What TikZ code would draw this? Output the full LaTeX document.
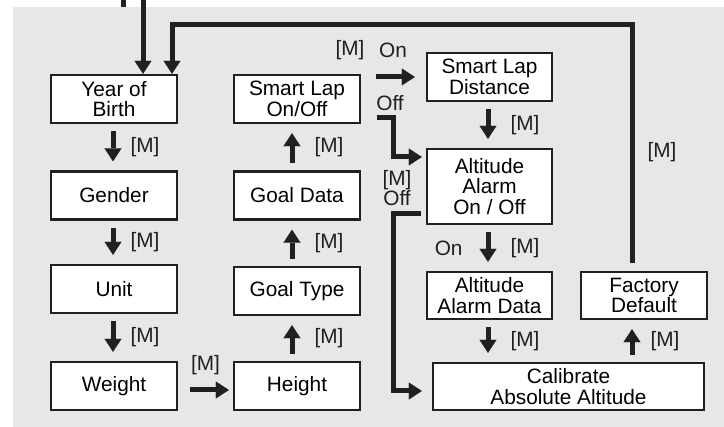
\documentclass[tikz,border=0pt]{standalone}
\usepackage{fontspec}
\setmainfont{Liberation Sans}
\usetikzlibrary{arrows.meta}

\definecolor{panel}{RGB}{230,231,232}
\definecolor{ink}{RGB}{35,31,32}

\tikzset{
  menu/.style={draw=ink, line width=2.4pt, fill=white, align=center, inner sep=0pt,
    minimum width=126pt, minimum height=48pt, font=\fontsize{20.8pt}{20.5pt}\selectfont},
  arr/.style={draw=ink, line width=5pt, -{Triangle[length=13pt,width=17pt,line width=0.1pt]}},
  mstep/.style={arr, shorten <=7pt, shorten >=9pt},
  lbl/.style={inner sep=0pt, text=ink, align=center, font=\fontsize{20.8pt}{20.5pt}\selectfont},
}

\begin{document}
\begin{tikzpicture}[x=1pt, y=-1pt]
  \useasboundingbox (0,0) rectangle (724,427);
  \fill[panel] (13,7) rectangle (724,427);

  % menu boxes
  \node[menu] (birth)    at (114,99)    {Year of\\Birth};
  \node[menu] (gender)   at (114,195.5) {Gender};
  \node[menu] (unit)     at (114,289)   {Unit};
  \node[menu] (weight)   at (114,386)   {Weight};
  \node[menu] (height)   at (297,386)   {Height};
  \node[menu] (goaltype) at (297,291)   {Goal Type};
  \node[menu] (goaldata) at (297,195.5) {Goal Data};
  \node[menu] (lapsw)    at (297,99)    {Smart Lap\\On/Off};
  \node[menu, minimum width=125pt] (lapdist) at (489.5,77) {Smart Lap\\Distance};
  \node[menu, minimum width=125pt, minimum height=75pt] (altsw) at (489.5,186.5) {Altitude\\Alarm\\On / Off};
  \node[menu, minimum width=125pt, minimum height=47pt] (altdata) at (489.5,295.5) {Altitude\\Alarm Data};
  \node[menu, minimum height=47pt] (factory) at (644,295.5) {Factory\\Default};
  \node[menu, minimum width=271pt, minimum height=47pt] (calib) at (568.5,386.5) {Calibrate\\Absolute Altitude};

  % entry from above
  \coordinate (stubtop) at (123,0);
  \coordinate (stubend) at (123,7);
  \coordinate (entry) at (143,0);
  \draw[ink, line width=5pt] (stubtop) -- (stubend);
  \draw[arr] (entry) -- ([xshift=29pt]birth.north);

  % left column
  \draw[mstep] ([xshift=-1pt]birth.south) -- ([xshift=-1pt]gender.north)
    node[lbl, midway, anchor=west, xshift=15pt] {[M]};
  \draw[mstep] ([xshift=-1pt]gender.south) -- ([xshift=-1pt]unit.north)
    node[lbl, midway, anchor=west, xshift=15pt] {[M]};
  \draw[mstep] ([xshift=-1pt]unit.south) -- ([xshift=-1pt]weight.north)
    node[lbl, midway, anchor=west, xshift=15pt] {[M]};
  \draw[arr, shorten <=12pt, shorten >=4pt] ([yshift=-4pt]weight.east) -- ([yshift=-4pt]height.west)
    node[lbl, midway, anchor=south, yshift=13pt] {[M]};

  % middle column
  \draw[mstep] ([xshift=-5pt]height.north) -- ([xshift=-5pt]goaltype.south)
    node[lbl, midway, anchor=west, xshift=20pt] {[M]};
  \draw[mstep] ([xshift=-5pt]goaltype.north) -- ([xshift=-5pt]goaldata.south)
    node[lbl, midway, anchor=west, xshift=20pt] {[M]};
  \draw[mstep] ([xshift=-5pt]goaldata.north) -- ([xshift=-5pt]lapsw.south)
    node[lbl, midway, anchor=west, xshift=20pt] {[M]};

  % smart lap branches
  \draw[arr] ([xshift=15pt,yshift=22pt]lapsw.east) -- ([xshift=-11pt]lapdist.west);
  \node[lbl] (lapm)  at (350,50) {[M]};
  \node[lbl] (lapon) at (393,50) {On};
  \draw[arr] ([xshift=16pt,yshift=-19pt]lapsw.east) -- ++(16,0) |- ([xshift=-4pt,yshift=29.5pt]altsw.west);
  \node[lbl] (lapoff) at (390,103) {Off};

  % altitude column
  \draw[mstep] ([xshift=-1.5pt]lapdist.south) -- ([xshift=-1.5pt]altsw.north)
    node[lbl, midway, anchor=west, xshift=20pt] {[M]};
  \draw[mstep] ([xshift=-1.5pt]altsw.south) -- ([xshift=-1.5pt]altdata.north)
    node[lbl, midway, anchor=west, xshift=20pt] {[M]}
    node[lbl, midway, anchor=east, xshift=-23pt] {On};
  \draw[mstep] ([xshift=-1.5pt]altdata.south) -- ([xshift=-1.5pt]altdata.south |- calib.north)
    node[lbl, midway, anchor=west, xshift=20pt] {[M]};
  \draw[arr] ([xshift=-5pt,yshift=-27.5pt]altsw.west) -- ++(-27,0) |- ([xshift=-10pt,yshift=-4.5pt]calib.west);
  \node[lbl] (altoff) at (397,188) {[M]\\Off};

  % back to the start
  \draw[mstep] ([xshift=-12pt]factory.south |- calib.north) -- ([xshift=-12pt]factory.south)
    node[lbl, midway, anchor=west, xshift=16pt] {[M]};
  \coordinate (retcorner) at (172,25);
  \draw[arr] ([xshift=-12pt,yshift=8pt]factory.north) |- (retcorner) -- ([xshift=58pt]birth.north);
  \node[lbl] (retm) at (662,152) {[M]};
\end{tikzpicture}
\end{document}
